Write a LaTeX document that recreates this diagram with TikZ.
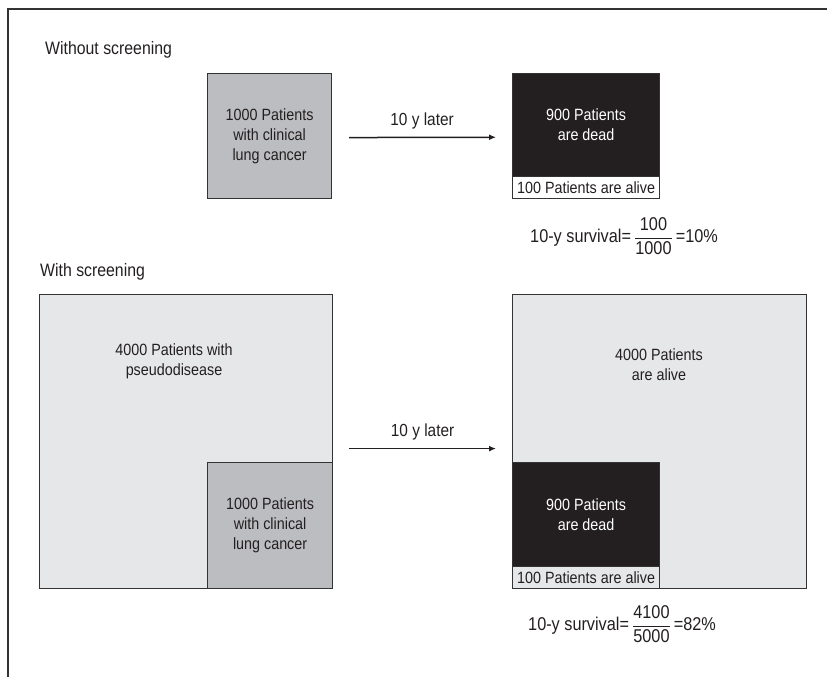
\documentclass[tikz,border=0pt]{standalone}
\usepackage{fontspec}
\setmainfont{Liberation Sans}[FakeStretch=0.88]
\usetikzlibrary{arrows.meta}
\definecolor{midgray}{HTML}{BCBDC0}
\definecolor{lightgraytwo}{HTML}{E6E7E8}
\definecolor{inkblack}{HTML}{231F20}
\definecolor{edgegray}{HTML}{333333}
\begin{document}
\begin{tikzpicture}[x=1pt,y=-1pt,
  box/.style={draw=edgegray, line width=1.2pt, rectangle, inner sep=0pt, anchor=north west, align=center, font=\fontsize{16.3}{20}\selectfont, text=inkblack},
  lbl/.style={font=\fontsize{16.3}{20}\selectfont, text=inkblack, align=center, inner sep=0pt},
  arrlbl/.style={font=\fontsize{17.5}{20}\selectfont, text=inkblack, inner sep=0pt, midway, anchor=base, yshift=12pt},
  formula/.style={font=\fontsize{18.5}{22}\selectfont, text=inkblack, inner sep=0pt, anchor=base west},
  titlelbl/.style={font=\fontsize{18}{22}\selectfont, text=inkblack, inner sep=0pt, anchor=west},
  arr/.style={-{Latex[length=7pt,width=6pt]}, line width=1.5pt, draw=inkblack}]
\useasboundingbox (0,0) rectangle (827,677);
\draw[edgegray, line width=1.3pt] (827,9) -- (8,9) -- (8,677);
% top part
\node[titlelbl] (t1) at (45,50) {Without screening};
\node[box, fill=midgray, minimum width=124pt, minimum height=125pt] (g1) at (207,73) {1000 Patients\\with clinical\\lung cancer};
\node[inner sep=0pt, anchor=north west, minimum width=147pt, minimum height=125pt] (r1) at (512,73) {};
\node[box, fill=inkblack, text=white, minimum width=147pt, minimum height=103pt] (d1) at (512,73) {900 Patients\\are dead};
\node[box, fill=white, minimum width=147pt, minimum height=22pt] (s1) at (512,176) {100 Patients are alive};
\draw[arr, shorten <=17pt, shorten >=16pt] ([yshift=-1.5pt]g1.east) -- ([yshift=-1.5pt]r1.west) node[arrlbl] {10 y later};
\node[formula] (f1) at (530,242.5) {10-y survival=\,$\displaystyle\frac{\mbox{100}}{\mbox{1000}}$\,=10\%};
% bottom part
\node[titlelbl] (t2) at (40,272) {With screening};
\node[box, fill=lightgraytwo, minimum width=293pt, minimum height=294pt] (L2) at (39,294) {};
\node[lbl] (p2) at (174,361) {4000 Patients with\\pseudodisease};
\node[box, fill=midgray, minimum width=125pt, minimum height=126pt] (g2) at (207,462) {1000 Patients\\with clinical\\lung cancer};
\node[box, fill=lightgraytwo, minimum width=294pt, minimum height=294pt] (R2) at (512,294) {};
\node[lbl] (a2) at (659,365) {4000 Patients\\are alive};
\node[box, fill=inkblack, text=white, minimum width=147pt, minimum height=104pt] (d2) at (512,462) {900 Patients\\are dead};
\node[box, fill=lightgraytwo, minimum width=147pt, minimum height=22pt] (s2) at (512,566) {100 Patients are alive};
\draw[arr, shorten <=16pt, shorten >=16pt] ([yshift=-7pt]L2.east) -- ([yshift=-7pt]R2.west) node[arrlbl] {10 y later};
\node[formula] (f2) at (528,630.5) {10-y survival=\,$\displaystyle\frac{\mbox{4100}}{\mbox{5000}}$\,=82\%};
\end{tikzpicture}
\end{document}
